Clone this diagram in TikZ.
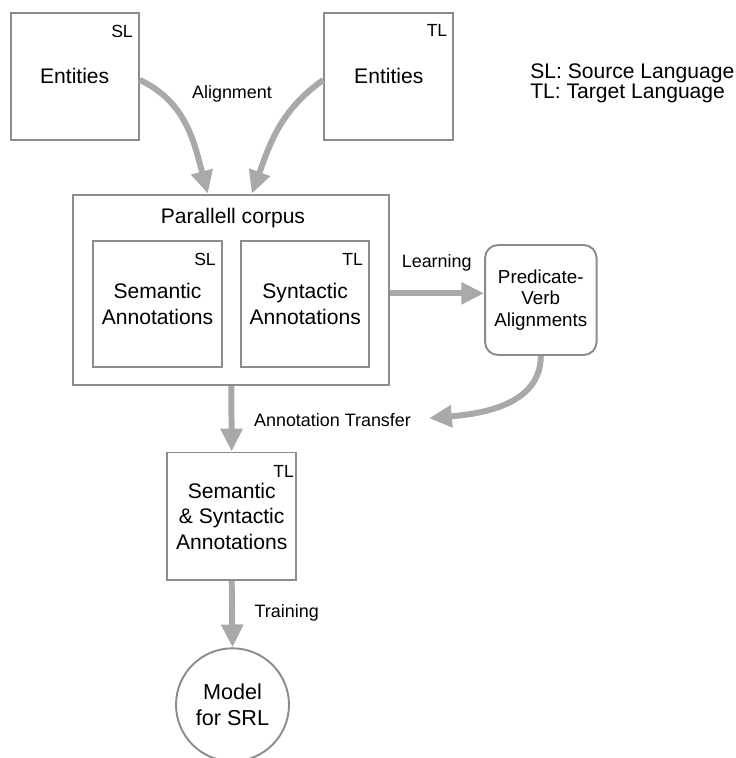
\documentclass[tikz,border=0pt]{standalone}
\usepackage{fontspec}
\setmainfont{Liberation Sans}
\usetikzlibrary{arrows.meta}
\definecolor{boxgray}{HTML}{8C8C8C}
\definecolor{flowgray}{HTML}{A8AAA9}
\tikzset{
  box/.style={draw=boxgray, line width=1.1pt, inner sep=0pt, align=center,
    font=\fontsize{12}{14.5}\selectfont},
  tag/.style={inner sep=0pt, font=\fontsize{10}{12}\selectfont},
  lbl/.style={inner sep=0pt, font=\fontsize{10.2}{12}\selectfont},
  flow/.style={draw=flowgray, line width=3.4pt, -{Triangle[width=12pt,length=13pt]}},
}
\begin{document}
\begin{tikzpicture}[x=0.02cm, y=0.02cm]
    \useasboundingbox (0,0) rectangle (736,-758);
    % entities
    \node[box, minimum width=2.56cm, minimum height=2.55cm] (esl) at (74.7,-76.4) {Entities};
    \node[box, minimum width=2.58cm, minimum height=2.55cm] (etl) at (388.8,-76.4) {Entities};
    \node[tag] (eslt) at (122,-31.7) {SL};
    \node[tag] (etlt) at (437,-30.7) {TL};
    \node[lbl] (align) at (232,-94.3) {Alignment};
    \node[anchor=west, align=left, inner sep=0pt, font=\fontsize{12}{9.3}\selectfont] (legend) at (530,-83.5)
        {SL: Source Language\\TL: Target Language};
    % parallel corpus
    \node[box, minimum width=6.32cm, minimum height=3.81cm] (corpus) at (231.3,-289.9) {};
    \node[inner sep=0pt, font=\fontsize{12}{14.5}\selectfont] (corpust) at (233,-218) {Parallell corpus};
    \node[box, minimum width=2.57cm, minimum height=2.53cm] (sem) at (157.5,-304) {Semantic\\Annotations};
    \node[box, minimum width=2.57cm, minimum height=2.53cm] (syn) at (305.2,-304) {Syntactic\\Annotations};
    \node[tag] (semt) at (205,-259) {SL};
    \node[tag] (synt) at (352.7,-259) {TL};
    % alignments
    \node[box, rounded corners=0.26cm, minimum width=2.23cm, minimum height=2.2cm,
        font=\fontsize{10.7}{12.3}\selectfont] (pva) at (540.8,-300) {Predicate-\\Verb\\Alignments};
    \node[lbl] (learn) at (436.7,-263.3) {Learning};
    \coordinate (trend) at (429,-418.3);
    \node[lbl] (transfer) at (332.5,-420) {Annotation Transfer};
    % target side
    \node[box, minimum width=2.57cm, minimum height=2.55cm] (sst) at (231.7,-516.2) {Semantic\\\& Syntactic\\Annotations};
    \node[tag] (sstt) at (283.7,-471) {TL};
    \node[lbl] (train) at (286.7,-613) {Training};
    \node[box, circle, minimum size=2.26cm, font=\fontsize{12.3}{15}\selectfont] (model) at (232.5,-704.8) {Model\\for SRL};
    % arrows
    \draw[flow] ([yshift=-0.07cm]esl.east) to[out=-25, in=105] ([xshift=-0.47cm]corpus.north);
    \draw[flow] ([yshift=-0.07cm]etl.west) to[out=215, in=70] ([xshift=0.41cm]corpus.north);
    \draw[flow] (corpus.east |- 0,-293.3) -- (pva.west |- 0,-293.3);
    \draw[flow] (pva.south) to[out=-90, in=5] (trend);
    \draw[flow] (corpus.south) -- (sst.north);
    \draw[flow] (sst.south) -- (model.north);
\end{tikzpicture}
\end{document}
